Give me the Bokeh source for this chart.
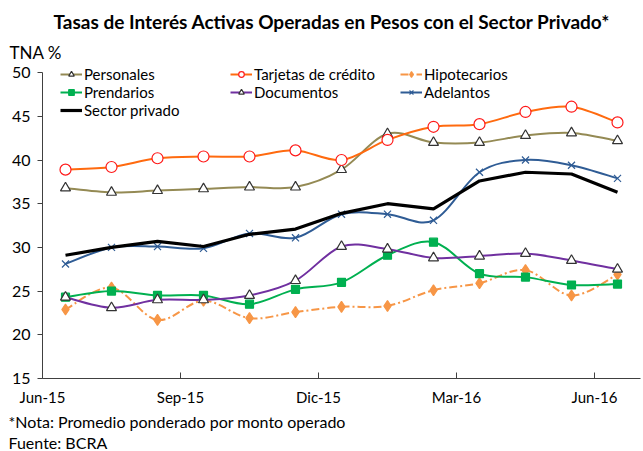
from bokeh.plotting import figure
from bokeh.models import (ColumnDataSource, FixedTicker, Legend, LegendItem, Title, Range1d)
from bokeh.embed import file_html
from bokeh.resources import INLINE

# ---- data ----
tick_labels = ["Jun-15", "Sep-15", "Dic-15", "Mar-16", "Jun-16"]
tick_months = [0, 3, 6, 9, 12]
months = ["Jun-15", "Jul-15", "Ago-15", "Sep-15", "Oct-15", "Nov-15", "Dic-15",
          "Ene-16", "Feb-16", "Mar-16", "Abr-16", "May-16", "Jun-16"]

personales = [36.8, 36.3, 36.5, 36.7, 36.9, 36.9, 38.9, 43.0, 42.0, 42.0, 42.8, 43.1, 42.2]
tarjetas = [38.9, 39.2, 40.2, 40.4, 40.4, 41.1, 40.0, 42.3, 43.8, 44.1, 45.5, 46.1, 44.3]
hipotecarios = [22.9, 25.4, 21.7, 23.9, 21.9, 22.6, 23.2, 23.3, 25.1, 25.9, 27.4, 24.5, 26.9]
prendarios = [24.3, 25.0, 24.5, 24.5, 23.5, 25.2, 26.0, 29.1, 30.6, 27.0, 26.6, 25.7, 25.8]
documentos = [24.3, 23.1, 24.0, 24.0, 24.5, 26.2, 30.1, 29.8, 28.8, 29.0, 29.3, 28.5, 27.5]
adelantos = [28.1, 30.0, 30.1, 29.9, 31.6, 31.1, 33.8, 33.8, 33.1, 38.6, 40.0, 39.4, 37.9]
sector_privado = [29.1, 30.0, 30.7, 30.1, 31.5, 32.1, 33.9, 35.0, 34.4, 37.6, 38.6, 38.4, 36.3]

FONT = "Lato"

x = [i + 0.5 for i in range(len(months))]


def bezier_source(xs, ys):
    # Smoothed (Excel-like) curve segments through the data points
    n = len(xs)
    d = dict(x0=[], y0=[], x1=[], y1=[], cx0=[], cy0=[], cx1=[], cy1=[])
    for i in range(n - 1):
        p0 = (xs[max(i - 1, 0)], ys[max(i - 1, 0)])
        p1 = (xs[i], ys[i])
        p2 = (xs[i + 1], ys[i + 1])
        p3 = (xs[min(i + 2, n - 1)], ys[min(i + 2, n - 1)])
        d["x0"].append(p1[0]); d["y0"].append(p1[1])
        d["x1"].append(p2[0]); d["y1"].append(p2[1])
        d["cx0"].append(p1[0] + (p2[0] - p0[0]) / 6)
        d["cy0"].append(p1[1] + (p2[1] - p0[1]) / 6)
        d["cx1"].append(p2[0] - (p3[0] - p1[0]) / 6)
        d["cy1"].append(p2[1] - (p3[1] - p1[1]) / 6)
    return ColumnDataSource(d)


p = figure(width=643, height=451, output_backend="svg", toolbar_location=None,
           x_range=Range1d(0, 13), y_range=Range1d(15, 50.7),
           min_border_left=42, min_border_right=3, min_border_top=66, min_border_bottom=73)
p.outline_line_color = None
p.xgrid.grid_line_color = None
p.ygrid.grid_line_color = None
p.background_fill_color = "white"
p.border_fill_color = "white"

# title
p.title.text = "Tasas de Interés Activas Operadas en Pesos con el Sector Privado*"
p.title.align = "left"
p.title.offset = 11
p.title.text_font = FONT
p.title.text_font_style = "bold"
p.title.text_font_size = "19px"
p.title.text_color = "black"
p.title.standoff = 6

p.add_layout(Title(text="TNA %", align="left", text_font=FONT, text_font_size="17px",
                   text_font_style="normal", text_color="black", offset=-33,
                   standoff=8), "above")

p.add_layout(Title(text="*Nota: Promedio ponderado por monto operado", align="left",
                   text_font=FONT, text_font_size="16px", text_font_style="normal",
                   text_color="black", offset=-34, standoff=2), "below")
p.add_layout(Title(text="Fuente: BCRA", align="left",
                   text_font=FONT, text_font_size="16px", text_font_style="normal",
                   text_color="black", offset=-34, standoff=-2), "below")

# axes
p.xaxis.ticker = FixedTicker(ticks=tick_months)
p.xaxis.major_label_overrides = {t: l for t, l in zip(tick_months, tick_labels)}
p.xaxis.major_tick_in = 6
p.xaxis.major_tick_out = 0
p.xaxis.minor_tick_line_color = None
p.xaxis.major_label_standoff = 9
p.yaxis.ticker = FixedTicker(ticks=[15, 20, 25, 30, 35, 40, 45, 50])
p.yaxis.bounds = (15, 50)
p.yaxis.major_tick_in = 0
p.yaxis.major_tick_out = 5
p.yaxis.minor_tick_line_color = None
p.yaxis.major_label_standoff = 7
for ax in (p.xaxis, p.yaxis):
    ax.axis_line_color = "#404040"
    ax.major_tick_line_color = "#404040"
    ax.major_label_text_font = FONT
    ax.major_label_text_color = "black"
p.xaxis.major_label_text_font_size = "15px"
p.yaxis.major_label_text_font_size = "16px"

items = []


def series(label, ys, color, marker=None, msize=9, mfill=None, mline=None, dash="solid", width=2):
    src = bezier_source(x, ys)
    r = p.bezier(x0="x0", y0="y0", x1="x1", y1="y1", cx0="cx0", cy0="cy0",
                 cx1="cx1", cy1="cy1", source=src, line_color=color,
                 line_width=width, line_dash=dash)
    rends = [r]
    if marker:
        s = p.scatter(x=x, y=ys, marker=marker, size=msize,
                      fill_color=mfill or color, line_color=mline or color, line_width=1.2)
        rends.append(s)
    items.append(LegendItem(label=label, renderers=rends))


series("Personales", personales, "#948A54", "triangle", 10, "white", "#333333")
series("Tarjetas de crédito", tarjetas, "#FF6A0F", "circle", 11, "white", "#FF1A1A")
series("Hipotecarios", hipotecarios, "#F79646", "diamond", 11, "#F79646", "#F79646", dash="8 3 2 3")
series("Prendarios", prendarios, "#00B050", "square", 8, "#00B050", "#00B050")
series("Documentos", documentos, "#7030A0", "triangle", 10, "white", "#333333")
series("Adelantos", adelantos, "#2F5C95", "x", 10, None, "#2F5C95")

sp = p.line(x=x, y=sector_privado, line_color="black", line_width=3.2)
items.append(LegendItem(label="Sector privado", renderers=[sp]))

legend = Legend(items=items, orientation="horizontal", ncols=3,
                location=(18, 259), glyph_width=22, glyph_height=14,
                label_width=146, label_standoff=2, spacing=0, padding=0, margin=0,
                label_text_font=FONT, label_text_font_size="15px",
                label_text_color="black", label_height=17,
                background_fill_alpha=0, border_line_color=None)
p.add_layout(legend, "center")

open("out.html", "w").write(file_html(p, INLINE))
